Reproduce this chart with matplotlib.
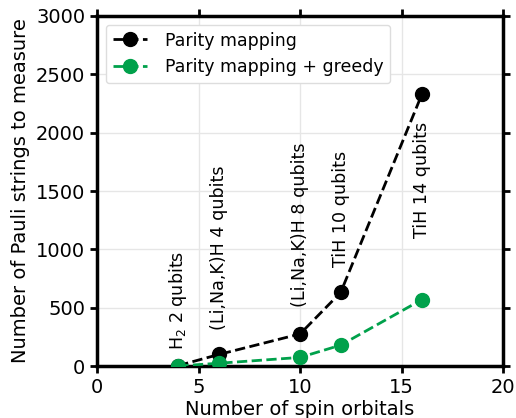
import matplotlib
matplotlib.use("Agg")
import matplotlib.pyplot as plt

# Number of spin orbitals for each molecule
spin_orbitals = [4, 6, 10, 12, 16]
# Pauli strings to measure
parity = [5, 100, 276, 631, 2328]
parity_greedy = [2, 25, 75, 180, 570]
# System labels
systems = ["H$_2$ 2 qubits", "(Li,Na,K)H 4 qubits", "(Li,Na,K)H 8 qubits",
           "TiH 10 qubits", "TiH 14 qubits"]
label_heights = [140, 310, 510, 850, 1100]

green = "#00a14b"

fig = plt.figure(figsize=(5.16, 4.18), dpi=100)
ax = fig.add_axes([0.188, 0.124, 0.787, 0.838])

ax.plot(spin_orbitals, parity, "o--", color="black", lw=2, ms=10,
        label="Parity mapping", zorder=3)
ax.plot(spin_orbitals, parity_greedy, "o--", color=green, lw=2, ms=10,
        label="Parity mapping + greedy", zorder=4)

for x, txt, h in zip(spin_orbitals, systems, label_heights):
    ax.text(x, h, txt, rotation=90, ha="center", va="bottom", fontsize=12.6)

ax.set_xlim(0, 20)
ax.set_ylim(0, 3000)
ax.set_xticks([0, 5, 10, 15, 20])
ax.set_yticks([0, 500, 1000, 1500, 2000, 2500, 3000])
ax.grid(True, color="#e6e6e6", lw=1)
ax.set_axisbelow(True)

for s in ax.spines.values():
    s.set_linewidth(2.5)
ax.tick_params(axis="both", which="major", labelsize=14, width=2, length=5,
               top=True, right=True, direction="out")

ax.set_xlabel("Number of spin orbitals", fontsize=14, labelpad=2)
ax.set_ylabel("Number of Pauli strings to measure", fontsize=14)

ax.legend(loc="upper left", fontsize=12.5, framealpha=1, edgecolor="#dddddd",
          handlelength=2, handletextpad=1.0)

fig.savefig("out.png", dpi=100, facecolor="white")
